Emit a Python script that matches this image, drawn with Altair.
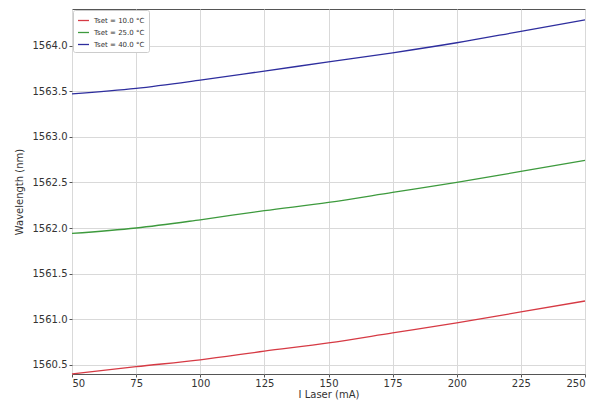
import altair as alt
import pandas as pd

current_ma = [50, 75, 100, 125, 150, 175, 200, 225, 250]
wl_10 = [1560.40, 1560.48, 1560.555, 1560.65, 1560.74, 1560.85, 1560.96, 1561.08, 1561.20]
wl_25 = [1561.94, 1562.00, 1562.09, 1562.19, 1562.28, 1562.39, 1562.50, 1562.62, 1562.74]
wl_40 = [1563.47, 1563.53, 1563.62, 1563.72, 1563.82, 1563.92, 1564.03, 1564.155, 1564.28]
series_names = ["Tset = 10.0 °C", "Tset = 25.0 °C", "Tset = 40.0 °C"]
series_colors = ["#d63a44", "#3d9a3d", "#2e2e9e"]
x_ticks = [50, 75, 100, 125, 150, 175, 200, 225, 250]
y_ticks = [1560.5, 1561.0, 1561.5, 1562.0, 1562.5, 1563.0, 1563.5, 1564.0]

rows = []
for name, vals in zip(series_names, [wl_10, wl_25, wl_40]):
    for c, w in zip(current_ma, vals):
        rows.append({"I": c, "WL": w, "Tset": name})
df = pd.DataFrame(rows)

chart = alt.Chart(df).mark_line(strokeWidth=1.3, interpolate="monotone").encode(
    x=alt.X("I:Q", title="I Laser (mA)",
            scale=alt.Scale(domain=[50, 250], nice=False, zero=False),
            axis=alt.Axis(values=x_ticks, format="d", labelPadding=1, titlePadding=1)),
    y=alt.Y("WL:Q", title="Wavelength (nm)",
            scale=alt.Scale(domain=[1560.40, 1564.40], nice=False, zero=False),
            axis=alt.Axis(values=y_ticks, format=".1f", labelPadding=2, titlePadding=8)),
    color=alt.Color("Tset:N", title=None,
                    scale=alt.Scale(domain=series_names, range=series_colors),
                    legend=alt.Legend(orient="top-left", symbolType="stroke",
                                      symbolSize=120, symbolStrokeWidth=1.3,
                                      labelFontSize=7, labelColor="#333",
                                      labelFont="DejaVu Sans",
                                      fillColor="white", strokeColor="#cccccc",
                                      padding=4, rowPadding=2, offset=1,
                                      cornerRadius=2)),
).properties(
    width=513, height=365,
    autosize=alt.AutoSizeParams(type="none"),
    padding={"left": 64, "top": 1, "right": 7, "bottom": 26},
).configure_view(
    stroke="#555", strokeWidth=1
).configure_axis(
    labelFont="DejaVu Sans", titleFont="DejaVu Sans",
    labelFontSize=10, titleFontSize=10, labelColor="#333", titleColor="#333",
    titleFontWeight="normal", grid=True, gridColor="#d9d9d9", gridWidth=1,
    tickColor="#555", tickSize=3, domain=False,
)

chart.save("out.html", embed_options={"renderer": "svg", "actions": False})
